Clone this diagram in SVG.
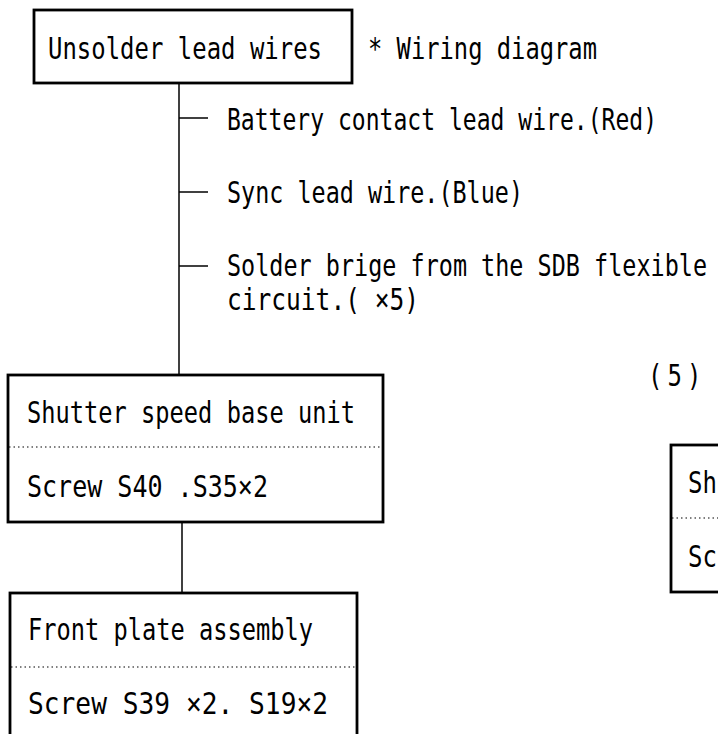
<svg xmlns="http://www.w3.org/2000/svg" width="718" height="734" viewBox="0 0 718 734">
<style>
.t{font-family:"DejaVu Sans Mono","Liberation Mono",monospace;font-size:24px;fill:#000}
.box{fill:#fff;stroke:#000;stroke-width:2.8}
.dot{stroke:#000;stroke-width:1.2;stroke-dasharray:1.5 3;fill:none}
.ln{stroke:#000;stroke-width:1.5;fill:none}
</style>
<rect width="718" height="734" fill="#fff"/>
<g id="connectors">
<line class="ln" x1="179" y1="83" x2="179" y2="375"/>
<line class="ln" x1="179" y1="118" x2="208" y2="118"/>
<line class="ln" x1="179" y1="192" x2="208" y2="192"/>
<line class="ln" x1="179" y1="266" x2="208" y2="266"/>
<line class="ln" x1="182" y1="522" x2="182" y2="593"/>
</g>
<g id="unsolder">
<rect class="box" x="34" y="10" width="318" height="73"/>
<text class="t" transform="translate(48,59) scale(1,1.22)" textLength="274" lengthAdjust="spacingAndGlyphs">Unsolder lead wires</text>
</g>
<g id="wiring-note">
<text class="t" transform="translate(368,59) scale(1,1.22)" textLength="229" lengthAdjust="spacingAndGlyphs">* Wiring diagram</text>
</g>
<g id="branch-labels">
<text class="t" transform="translate(227,130) scale(1,1.22)" textLength="430" lengthAdjust="spacingAndGlyphs">Battery contact lead wire.(Red)</text>
<text class="t" transform="translate(227,203) scale(1,1.22)" textLength="296" lengthAdjust="spacingAndGlyphs">Sync lead wire.(Blue)</text>
<text class="t" transform="translate(227,276) scale(1,1.22)" textLength="480" lengthAdjust="spacingAndGlyphs">Solder brige from the SDB flexible</text>
<text class="t" transform="translate(227,310) scale(1,1.22)" textLength="192" lengthAdjust="spacingAndGlyphs">circuit.( ×5)</text>
</g>
<g id="shutter-base">
<rect class="box" x="8" y="375" width="375" height="147"/>
<text class="t" transform="translate(27,423) scale(1,1.22)" textLength="328" lengthAdjust="spacingAndGlyphs">Shutter speed base unit</text>
<line class="dot" x1="9" y1="447" x2="382" y2="447"/>
<text class="t" transform="translate(27,497) scale(1,1.22)" textLength="241" lengthAdjust="spacingAndGlyphs">Screw S40 .S35×2</text>
</g>
<g id="front-plate">
<rect class="box" x="10" y="593" width="347" height="160"/>
<text class="t" transform="translate(28,640) scale(1,1.22)" textLength="285" lengthAdjust="spacingAndGlyphs">Front plate assembly</text>
<line class="dot" x1="11" y1="667" x2="356" y2="667"/>
<text class="t" transform="translate(28,714) scale(1,1.22)" textLength="300" lengthAdjust="spacingAndGlyphs">Screw S39 ×2. S19×2</text>
</g>
<g id="step5">
<text class="t" transform="translate(648,386) scale(1,1.22)" letter-spacing="5">(5)</text>
</g>
<g id="right-box">
<rect class="box" x="671" y="445" width="80" height="147"/>
<text class="t" transform="translate(688,493) scale(1,1.22)">Sh</text>
<line class="dot" x1="672" y1="518" x2="718" y2="518"/>
<text class="t" transform="translate(688,567) scale(1,1.22)">Sc</text>
</g>
</svg>
